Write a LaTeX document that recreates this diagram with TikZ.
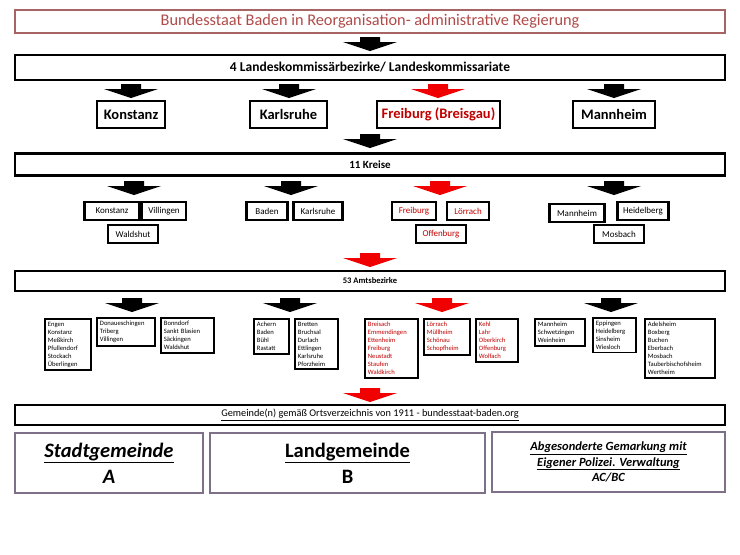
\documentclass[tikz,border=0pt]{standalone}
\usepackage{fontspec}
\setmainfont{Carlito}
\usetikzlibrary{positioning}

\definecolor{titlered}{HTML}{B04A48}
\definecolor{titleframe}{HTML}{A86464}
\definecolor{darkred}{HTML}{C00000}
\definecolor{arrowred}{HTML}{F00000}
\definecolor{framegray}{HTML}{7E7089}

\tikzset{
  pics/downarrow/.style={code={
      \fill[#1] (-10,-7) -- (10,-7) -- (10,-2) -- (27,-2) -- (0,7) -- (-27,-2) -- (-10,-2) -- cycle;}},
  titlebox/.style={draw=titleframe, line width=1.4pt, minimum width=710pt, minimum height=23pt,
      text=titlered, font=\fontsize{16.3}{18}\selectfont},
  barbox/.style={draw, line width=2.8pt, minimum width=710pt, inner sep=0pt},
  citybox/.style={draw, line width=2.6pt, minimum height=27pt, inner sep=0pt,
      font=\bfseries\fontsize{14.5}{16}\selectfont},
  kreisbox/.style={draw, line width=2.3pt, minimum height=18pt, inner sep=0pt,
      font=\fontsize{9}{10}\selectfont},
  amtbox/.style={draw, line width=1.9pt, anchor=north west, align=left, inner sep=3pt,
      font=\fontsize{6.6}{8}\selectfont},
  endbox/.style={draw=framegray, line width=1.9pt, minimum height=60pt, align=center, inner sep=0pt},
}

\begin{document}
\begin{tikzpicture}[x=1pt, y=-1pt]
  \useasboundingbox (0,0) rectangle (740,555);

  % Regierung
  \node[titlebox] (regierung) at (370,21.5) {Bundesstaat Baden in Reorganisation- administrative Regierung};
  \pic (arReg) at (370,44) {downarrow=black};

  % Landeskommissaerbezirke
  \node[barbox, minimum height=25pt, font=\bfseries\fontsize{13.5}{15}\selectfont] (lkb) at (370,67.5)
    {4 Landeskommissärbezirke/ Landeskommissariate};
  \pic (arKon) at (131,91) {downarrow=black};
  \pic (arKar) at (289,91) {downarrow=black};
  \pic (arFre) at (438,91) {downarrow=arrowred};
  \pic (arMan) at (614,91) {downarrow=black};
  \node[citybox, minimum width=68pt] (konstanz) at (131,114.5) {Konstanz};
  \node[citybox, minimum width=77pt] (karlsruhe) at (288.5,114.5) {Karlsruhe};
  \node[citybox, minimum width=123pt, text=darkred] (freiburg) at (438.5,114.5) {Freiburg (Breisgau)};
  \node[citybox, minimum width=82pt] (mannheim) at (614,114.5) {Mannheim};
  \pic (arLkb) at (370,141) {downarrow=black};

  % Kreise
  \node[barbox, minimum height=22pt, font=\bfseries\fontsize{11}{12}\selectfont] (kreise) at (370,164.5) {11 Kreise};
  \pic (arKrKon) at (134,188) {downarrow=black};
  \pic (arKrKar) at (291,188) {downarrow=black};
  \pic (arKrFre) at (440,188) {downarrow=arrowred};
  \pic (arKrMan) at (614,188) {downarrow=black};
  \node[kreisbox, minimum width=55pt] (krKonstanz) at (112,211) {Konstanz};
  \node[kreisbox, minimum width=44pt] (krVillingen) at (164,211) {Villingen};
  \node[kreisbox, minimum width=50pt] (krWaldshut) at (133,234) {Waldshut};
  \node[kreisbox, minimum width=41pt] (krBaden) at (267,211) {Baden};
  \node[kreisbox, minimum width=49pt] (krKarlsruhe) at (318,211) {Karlsruhe};
  \node[kreisbox, minimum width=44pt, text=darkred] (krFreiburg) at (414,211) {Freiburg};
  \node[kreisbox, minimum width=42pt, text=darkred] (krLoerrach) at (468,211) {Lörrach};
  \node[kreisbox, minimum width=50pt, text=darkred] (krOffenburg) at (441,234) {Offenburg};
  \node[kreisbox, minimum width=55pt] (krMannheim) at (577,213) {Mannheim};
  \node[kreisbox, minimum width=51pt] (krHeidelberg) at (643,211) {Heidelberg};
  \node[kreisbox, minimum width=50pt] (krMosbach) at (619,234) {Mosbach};
  \pic (arKreise) at (370,260) {downarrow=arrowred};

  % Amtsbezirke
  \node[barbox, minimum height=20pt, font=\bfseries\fontsize{8.5}{10}\selectfont] (amtsbezirke) at (370,281) {53 Amtsbezirke};
  \pic (arAbKon) at (132,305) {downarrow=black};
  \pic (arAbKar) at (290,305) {downarrow=black};
  \pic (arAbFre) at (442,305) {downarrow=arrowred};
  \pic (arAbMan) at (611,305) {downarrow=black};
  \node[amtbox, text width=40pt] (abEngen) at (44,318)
    {Engen\\Konstanz\\Meßkirch\\Pfullendorf\\Stockach\\Überlingen};
  \node[amtbox, text width=52pt] (abDonau) at (96,317)
    {Donaueschingen\\Triberg\\Villingen};
  \node[amtbox, text width=47pt] (abBonndorf) at (160,317)
    {Bonndorf\\Sankt Blasien\\Säckingen\\Waldshut};
  \node[amtbox, text width=29pt] (abAchern) at (253,318)
    {Achern\\Baden\\Bühl\\Rastatt};
  \node[amtbox, text width=37pt] (abBretten) at (294,318)
    {Bretten\\Bruchsal\\Durlach\\Ettlingen\\Karlsruhe\\Pforzheim};
  \node[amtbox, text width=47pt, text=darkred] (abBreisach) at (364,318)
    {Breisach\\Emmendingen\\Ettenheim\\Freiburg\\Neustadt\\Staufen\\Waldkirch};
  \node[amtbox, text width=40pt, text=darkred] (abLoerrach) at (423,318)
    {Lörrach\\Müllheim\\Schönau\\Schopfheim};
  \node[amtbox, text width=36pt, text=darkred] (abKehl) at (475,318)
    {Kehl\\Lahr\\Oberkirch\\Offenburg\\Wolfach};
  \node[amtbox, text width=44pt] (abMannheim) at (534,318)
    {Mannheim\\Schwetzingen\\Weinheim};
  \node[amtbox, text width=37pt] (abEppingen) at (592,317)
    {Eppingen\\Heidelberg\\Sinsheim\\Wiesloch};
  \node[amtbox, text width=64pt] (abAdelsheim) at (644,318)
    {Adelsheim\\Boxberg\\Buchen\\Eberbach\\Mosbach\\Tauberbischofsheim\\Wertheim};
  \pic (arAmts) at (370,395) {downarrow=arrowred};

  % Gemeinden
  \node[barbox, minimum height=20pt, font=\fontsize{10.3}{12}\selectfont] (gemeinden) at (370,415)
    {\underline{Gemeinde(n) gemäß Ortsverzeichnis von 1911 - bundesstaat-baden.org}};
  \node[endbox, minimum width=188pt, font=\bfseries\itshape\fontsize{20.5}{26}\selectfont] (stadt) at (109,463)
    {\underline{Stadtgemeinde}\\A};
  \node[endbox, minimum width=275pt, font=\bfseries\fontsize{20.5}{26}\selectfont] (land) at (347.5,463)
    {\underline{Landgemeinde}\\B};
  \node[endbox, minimum width=233pt, font=\bfseries\itshape\fontsize{12.5}{15.5}\selectfont] (gemarkung) at (608.5,462)
    {\underline{Abgesonderte Gemarkung mit}\\\underline{Eigener Polizei. Verwaltung}\\AC/BC};
\end{tikzpicture}
\end{document}
